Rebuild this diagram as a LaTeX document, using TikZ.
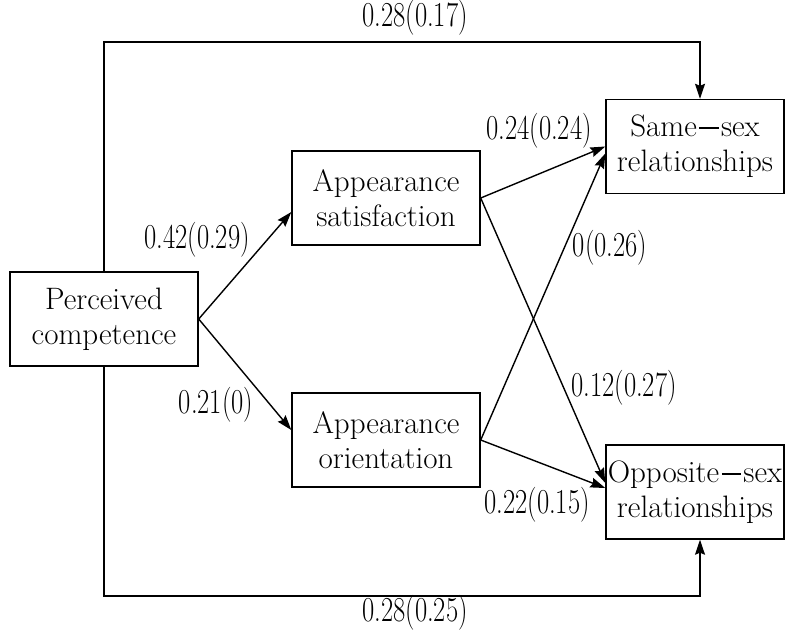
\documentclass[tikz,border=0pt]{standalone}
\usepackage{fontspec}
\usetikzlibrary{arrows.meta}
\newfontfamily\numfont[FakeStretch=0.76]{Latin Modern Roman}
\newcommand{\longdash}{\kern0.08em\rule[0.25em]{0.62em}{0.065em}\kern0.08em}
\begin{document}
\begin{tikzpicture}[x=1pt,y=-1pt,
  box/.style={draw, line width=1.4pt, align=center, inner sep=0pt,
    font=\fontsize{31}{35}\selectfont},
  lab/.style={inner sep=0pt, font=\numfont\fontsize{35}{38}\selectfont},
  arr/.style={line width=1.4pt, line join=miter, -{Stealth[length=15pt,width=10pt,inset=2pt]}}]
\useasboundingbox (0,0) rectangle (786,635);
\node[box, minimum width=188pt, minimum height=94pt] (P) at (104,319) {Perceived\\competence};
\node[box, minimum width=188pt, minimum height=94pt] (Sat) at (386,198) {Appearance\\satisfaction};
\node[box, minimum width=188pt, minimum height=94pt] (Ori) at (386,440) {Appearance\\orientation};
\node[box, minimum width=178pt, minimum height=94pt] (Same) at (695,146.5) {Same\longdash sex\\relationships};
\node[box, minimum width=178pt, minimum height=94pt] (Opp) at (695,492) {Opposite\longdash sex\\relationships};
\coordinate (t2) at (700,42);
\coordinate (b2) at (700,596);
\draw[arr] (P.north) |- (t2) -- (t2 |- Same.north);
\draw[arr] (P.south) |- (b2) -- (b2 |- Opp.south);
\draw[arr] (P.east) -- ([yshift=-14pt]Sat.west);
\draw[arr] (P.east) -- ([yshift=10pt]Ori.west);
\draw[arr] (Sat.east) -- (Same.west);
\draw[arr] (Ori.east) -- ([yshift=-7pt]Same.west);
\draw[arr] (Sat.east) -- ([yshift=9pt]Opp.west);
\draw[arr] (Ori.east) -- ([yshift=4pt]Opp.west);
\node[lab] (l1) at (415,18) {0.28(0.17)};
\node[lab] (l2) at (415,613) {0.28(0.25)};
\node[lab] (l3) at (197,240) {0.42(0.29)};
\node[lab] (l4) at (216,405) {0.21(0)};
\node[lab] (l5) at (539,131) {0.24(0.24)};
\node[lab] (l6) at (610,248) {0(0.26)};
\node[lab] (l7) at (624,388) {0.12(0.27)};
\node[lab] (l8) at (537,505) {0.22(0.15)};
\end{tikzpicture}
\end{document}
